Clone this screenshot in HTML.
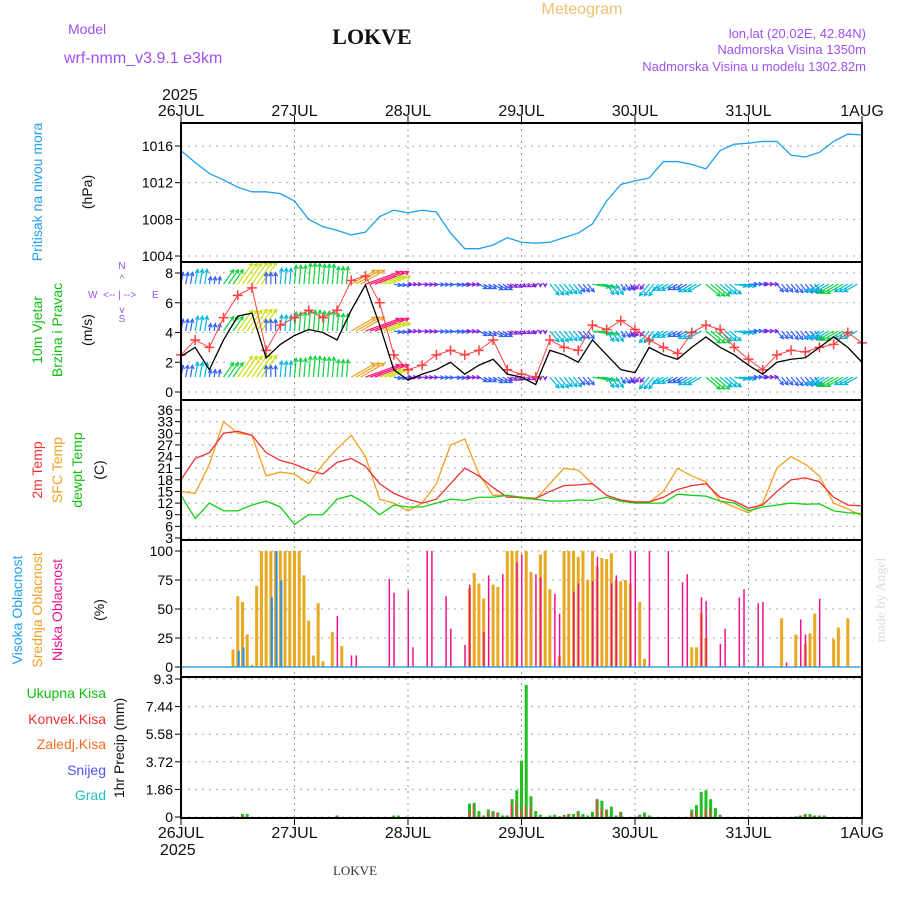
<!DOCTYPE html>
<html><head><meta charset="utf-8"><style>
body{margin:0;background:#fff}
svg{display:block;font-family:"Liberation Sans",sans-serif}
</style></head><body>
<svg id="chart" width="900" height="900" viewBox="0 0 900 900" xmlns="http://www.w3.org/2000/svg">
<text x="582" y="14" font-size="16" fill="#f0c070" text-anchor="middle">Meteogram</text>
<text x="68" y="34" font-size="14" fill="#a050f0">Model</text>
<text x="64" y="63" font-size="16" fill="#a050f0">wrf-nmm_v3.9.1 e3km</text>
<text x="372" y="44" font-size="22" font-weight="bold" font-family="Liberation Serif,serif" fill="#111" text-anchor="middle">LOKVE</text>
<text x="866" y="38" font-size="13" fill="#a050f0" text-anchor="end">lon,lat (20.02E, 42.84N)</text>
<text x="866" y="54" font-size="13" fill="#a050f0" text-anchor="end">Nadmorska Visina 1350m</text>
<text x="866" y="71" font-size="13" fill="#a050f0" text-anchor="end">Nadmorska Visina u modelu 1302.82m</text>
<text x="162" y="100" font-size="16" fill="#111">2025</text>
<text x="160" y="855" font-size="16" fill="#111">2025</text>
<text x="355" y="875" font-size="13" font-family="Liberation Serif,serif" fill="#333" text-anchor="middle">LOKVE</text>
<text transform="translate(885,600) rotate(-90)" font-size="14" font-family="Liberation Serif,serif" fill="#d8e0d8" text-anchor="middle">made by Angel</text>
<g id="labels" font-size="14">
<text transform="translate(42,192) rotate(-90)" fill="#20a0f0" text-anchor="middle">Pritisak na nivou mora</text>
<text transform="translate(92,192) rotate(-90)" fill="#111" text-anchor="middle">(hPa)</text>
<text transform="translate(42,330) rotate(-90)" fill="#10c010" text-anchor="middle">10m Vjetar</text>
<text transform="translate(62,330) rotate(-90)" fill="#10c010" text-anchor="middle">Brzina i Pravac</text>
<text transform="translate(92,330) rotate(-90)" fill="#111" text-anchor="middle">(m/s)</text>
<g fill="#a050f0" font-size="10">
<text x="122" y="269" text-anchor="middle">N</text><text x="122" y="282" text-anchor="middle">^</text>
<text x="88" y="298">W</text><text x="103" y="298">&lt;-- | --&gt;</text><text x="152" y="298">E</text>
<text x="122" y="313" text-anchor="middle">v</text><text x="122" y="322" text-anchor="middle">S</text></g>
<text transform="translate(42,470) rotate(-90)" fill="#f03030" text-anchor="middle">2m Temp</text>
<text transform="translate(62,470) rotate(-90)" fill="#f0a020" text-anchor="middle">SFC Temp</text>
<text transform="translate(82,470) rotate(-90)" fill="#10c010" text-anchor="middle">dewpt Temp</text>
<text transform="translate(104,470) rotate(-90)" fill="#111" text-anchor="middle">(C)</text>
<text transform="translate(22,610) rotate(-90)" fill="#20a0f0" text-anchor="middle">Visoka Oblacnost</text>
<text transform="translate(42,610) rotate(-90)" fill="#f0a020" text-anchor="middle">Srednja Oblacnost</text>
<text transform="translate(62,610) rotate(-90)" fill="#f01090" text-anchor="middle">Niska Oblacnost</text>
<text transform="translate(104,610) rotate(-90)" fill="#111" text-anchor="middle">(%)</text>
<text x="106" y="698" fill="#10c010" text-anchor="end">Ukupna Kisa</text>
<text x="106" y="724" fill="#f03030" text-anchor="end">Konvek.Kisa</text>
<text x="106" y="749" fill="#f07020" text-anchor="end">Zaledj.Kisa</text>
<text x="106" y="775" fill="#5050f0" text-anchor="end">Snijeg</text>
<text x="106" y="800" fill="#20c0c0" text-anchor="end">Grad</text>
<text transform="translate(124,748) rotate(-90)" fill="#111" text-anchor="middle">1hr Precip (mm)</text>
</g>
</svg>
<script>
const dayLabels=["26JUL","27JUL","28JUL","29JUL","30JUL","31JUL","1AUG"];
const pressure=[1015.5,1014.2,1013,1012.3,1011.5,1011,1011,1010.8,1010,1008,1007.2,1006.8,1006.3,1006.6,1008.3,1009,1008.7,1009,1008.8,1006.5,1004.8,1004.8,1005.2,1006,1005.5,1005.4,1005.5,1006,1006.5,1007.5,1010,1011.8,1012.2,1012.5,1014.3,1014.3,1014,1013.5,1015.5,1016.2,1016.3,1016.5,1016.5,1015,1014.8,1015.3,1016.5,1017.3,1017.2];
const pressureTicks=[1004,1008,1012,1016];
const windSpeed=[2.4,3.0,1.5,3.5,5.1,5.3,2.3,3.2,3.8,4.2,4.0,3.5,5.5,7.2,4.5,1.5,0.8,1.2,1.5,2.0,1.2,1.8,2.2,1.2,1.0,0.5,2.8,2.5,2.0,3.5,2.5,1.5,1.3,3.0,2.5,2.2,3.0,3.7,3.0,2.5,1.8,1.2,2.0,2.2,2.3,3.0,3.7,3.0,2.0];
const windGust=[2.5,3.5,3,5,6.5,7,2.8,4.5,5,5.5,5,5.5,7.5,7.8,6,2.5,1.5,1.8,2.5,2.8,2.5,2.8,3.5,1.5,1.2,1.0,3.5,3.0,2.8,4.5,4.2,4.8,4.2,3.5,3.0,2.6,4.0,4.5,4.2,3.0,2.2,1.5,2.5,2.8,2.7,3.0,3.2,4.0,3.3];
const windDir=[10,10,10,35,35,35,0,5,5,5,5,5,60,70,70,100,95,95,95,95,95,120,120,120,120,180,140,140,140,100,145,145,220,220,240,240,240,130,130,100,90,90,140,140,140,240,240,240,110];
const windRows=[1.0,4.1,7.25];
const windTicks=[0,2,4,6,8];
const temp2m=[18,23.5,25,30,30.5,29.5,25,23,22,20.5,19.5,22.5,23.5,21.5,17,14.5,13,12,13,17,21,19,16,13.5,13.5,13.2,15,16.5,16.7,17,14,12.8,12.3,12.3,13.5,15.5,16.5,17,13.5,12.5,10.7,11.5,15,18,18.5,17.5,13.5,11.5,11.3];
const tempSfc=[15,14.5,22,33,30,29.5,19,20,19.5,17,22,26,29.5,24,13,12,10,12,17,27,28.5,19.5,14,14,13.2,13,17,21,20.5,17,14,12.7,12.2,12.2,15,21,19,17.5,12.5,11,9.5,12,21,24,22,19,12,10.5,8.7];
const tempDew=[14,8,12,10,10,11.5,12.5,11,6.5,9,9,13,14,12,9,11.5,11,11,12,13,12.7,13.5,13.5,14,13.5,13,12.5,12.5,12.8,12.7,13.5,12.5,12,12,12,14.3,14,13.8,12.5,12,10,11,11.5,12,11.7,11.8,10,9.5,9.3];
const tempTicks=[3,6,9,12,15,18,21,24,27,30,33,36];
const midHours=[11,12,13,14,15,16,17,18,19,20,21,22,23,24,25,26,27,28,29,30,32,34,61,62,63,64,66,67,69,70,71,73,74,76,77,78,80,81,82,83,84,85,86,87,88,89,90,91,92,93,94,95,97,98,108,109,110,111,127,130,132,133,134,138,139,141];
const midCloud=[15,61,56,28,2,70,100,100,100,100,100,100,100,100,100,79,40,10,55,5,30,18,68,81,72,59,71,69,100,100,100,100,82,97,100,67,9,100,100,100,95,100,75,100,87,94,93,98,75,74,75,72,56,7,17,17,47,25,42,28,20,29,46,24,34,42];
const lowHours=[33,36,37,44,45,48,49,52,53,56,57,60,61,64,65,68,71,72,75,76,79,80,83,84,87,88,91,92,95,96,99,103,106,107,110,111,114,115,118,119,122,123,128,131,132,135];
const lowCloud=[44,10,10,76,64,66,17,100,100,61,33,19,71,30,79,80,90,97,80,77,63,46,65,72,74,95,72,79,100,100,100,100,73,80,60,57,20,33,60,67,55,56,4,41,28,59];
const highHours=[12,13,19,20,21];
const highCloud=[14,17,60,100,75];
const cloudTicks=[0,25,50,75,100];
const precipHours=[11,13,14,33,45,46,61,62,63,64,65,66,67,68,69,70,71,72,73,74,75,76,78,79,80,81,82,83,84,85,86,87,88,89,90,91,92,93,97,98,99,108,109,110,111,112,113,114,130,131,132,133,134,135,136];
const totalPrecip=[0.04,0.2,0.2,0.1,0.1,0.1,0.9,0.95,0.4,0.1,0.5,0.4,0.3,0.1,0.1,1.2,1.8,3.8,8.9,1.4,0.4,0.15,0.1,0.15,0.05,0.15,0.2,0.2,0.4,0.2,0.1,0.35,1.2,1.1,0.5,0.7,0.1,0.35,0.15,0.3,0.1,0.5,0.8,1.7,1.8,1.2,0.6,0.15,0.05,0.1,0.2,0.2,0.1,0.1,0.1];
const convPrecip=[0,0.1,0,0.1,0,0,0.3,0.8,0.1,0,0.3,0.35,0.3,0,0,0.9,1.0,0.5,0.8,0.7,0.1,0,0,0,0,0.1,0.2,0,0.3,0,0,0,1.2,0.6,0.5,0,0,0.3,0,0,0,0.3,0.4,0,0.5,0.6,0,0,0,0,0.15,0,0.1,0,0];
const precipTicks=[0,1.86,3.72,5.58,7.44,9.3];

const svg=document.getElementById('chart');
const NS='http://www.w3.org/2000/svg';
const X0=181,X1=862;
const xh=h=>X0+(X1-X0)*h/144;
const xi=i=>xh(i*3);
function lin(d0,d1,p0,p1){return v=>p0+(v-d0)*(p1-p0)/(d1-d0);}
const yP=lin(1004,1016,256,146);
const yW=lin(0,8,392,273);
const yT=lin(3,36,538,410);
const yC=lin(0,100,667,551);
const yR=lin(0,9.3,817,679);
const panels=[[123,262,'pressure-panel'],[262,400,'wind-panel'],[400,540,'temp-panel'],[540,677,'cloud-panel'],[677,818,'precip-panel']];
function el(tag,attrs,parent){const e=document.createElementNS(NS,tag);for(const k in attrs)e.setAttribute(k,attrs[k]);(parent||svg).appendChild(e);return e;}
function grp(name){const g=el('g',{});


return g;}

const grid=grp('gridlines');
panels.forEach(p=>{for(let d=1;d<6;d++){el('line',{x1:xh(d*24),x2:xh(d*24),y1:p[0],y2:p[1],stroke:'#999','stroke-dasharray':'2,4'},grid);}});
function hgrid(ticks,f,fmt,name){const g=grp(name);ticks.forEach(t=>{const y=f(t);
el('line',{x1:X0,x2:X1,y1:y,y2:y,stroke:'#aaa','stroke-dasharray':'2,5'},g);
el('line',{x1:X0-6,x2:X0,y1:y,y2:y,stroke:'#000'},g);
const tx=el('text',{x:X0-8,y:y+5,'font-size':14,'text-anchor':'end',fill:'#000'},g);tx.textContent=fmt(t);});}
hgrid(pressureTicks,yP,t=>t,'pressure-axis');
hgrid(windTicks,yW,t=>t,'wind-axis');
hgrid(tempTicks,yT,t=>t,'temp-axis');
hgrid(cloudTicks,yC,t=>t,'cloud-axis');
hgrid(precipTicks,yR,t=>t,'precip-axis');

function line(arr,f,color,name,w){const g=grp(name);
el('polyline',{points:arr.map((v,i)=>xi(i)+','+f(v)).join(' '),fill:'none',stroke:color,'stroke-width':w||1.3},g);return g;}
line(pressure,yP,'#20a0f0','pressure-line');

const clipD=el('defs',{});
const cp=el('clipPath',{id:'windclip'},clipD);el('rect',{x:X0,y:262,width:X1-X0,height:138},cp);
function wcol(s){return s<1.5?'#8020e0':s<2.5?'#3060ff':s<3.5?'#00b8d8':s<4.5?'#10d040':s<5.5?'#c8e010':s<6.5?'#f0a020':'#ff1078';}
const wg=grp('wind-arrows');wg.setAttribute('clip-path','url(#windclip)');
windRows.forEach(r=>{windDir.forEach((d,i)=>{for(let k=0;k<3&&i*3+k<=144;k++){
const x=xh(i*3+k),y=yW(r),L=windSpeed[i]*5,a=d*Math.PI/180;
const x2=x+L*Math.sin(a),y2=y-L*Math.cos(a),c=wcol(windSpeed[i]);
el('line',{x1:x,y1:y,x2:x2,y2:y2,stroke:c,'stroke-width':1.2},wg);
const b=a+Math.PI;
el('polyline',{points:(x2+4*Math.sin(b-0.5))+','+(y2-4*Math.cos(b-0.5))+' '+x2+','+y2+' '+(x2+4*Math.sin(b+0.5))+','+(y2-4*Math.cos(b+0.5)),fill:'none',stroke:c,'stroke-width':1.2},wg);}});});
const gg=line(windGust,yW,'#ff4040','wind-gust-line',1);
windGust.forEach((v,i)=>{const x=xi(i),y=yW(v);el('path',{d:`M${x-5} ${y}H${x+5}M${x} ${y-5}V${y+5}`,stroke:'#ff4040','stroke-width':1.5},gg);});
line(windSpeed,yW,'#000','wind-speed-line',1.3);

line(tempSfc,yT,'#f0a020','sfc-temp-line');
line(temp2m,yT,'#f03030','temp-2m-line');
line(tempDew,yT,'#10d010','dewpoint-line');

function bars(hours,vals,f,color,w,dx,name){const g=grp(name);hours.forEach((h,i)=>{const y=f(vals[i]),y0=f(0);if(y0-y>0)el('rect',{x:xh(h)+dx,y:y,width:w,height:y0-y,fill:color},g);});}
bars(midHours,midCloud,yC,'#e8a820',3,-1.5,'mid-cloud-bars');
bars(lowHours,lowCloud,yC,'#f01090',1.5,-0.5,'low-cloud-bars');
bars(highHours,highCloud,yC,'#2090e0',2,0,'high-cloud-bars');
el('line',{x1:X0,x2:X1,y1:yC(0),y2:yC(0),stroke:'#40a0e0','stroke-width':1.5,});
bars(precipHours,totalPrecip,yR,'#20c020',3,-1.5,'total-precip-bars');
bars(precipHours,convPrecip,yR,'#f04040',1.5,-1.5,'convective-precip-bars');

const fr=grp('panel-frames');
panels.forEach(p=>{const r=el('rect',{x:X0,y:p[0],width:X1-X0,height:p[1]-p[0],fill:'none',stroke:'#000','stroke-width':2},fr);

});
const ax=grp('time-axis');
dayLabels.forEach((d,i)=>{const x=xh(i*24);
el('line',{x1:x,x2:x,y1:116,y2:123,stroke:'#000'},ax);
el('line',{x1:x,x2:x,y1:818,y2:825,stroke:'#000'},ax);
const t1=el('text',{x:x,y:116,'font-size':16,'text-anchor':'middle',fill:'#111'},ax);t1.textContent=d;
const t2=el('text',{x:x,y:838,'font-size':16,'text-anchor':'middle',fill:'#111'},ax);t2.textContent=d;});
</script>
</body></html>
